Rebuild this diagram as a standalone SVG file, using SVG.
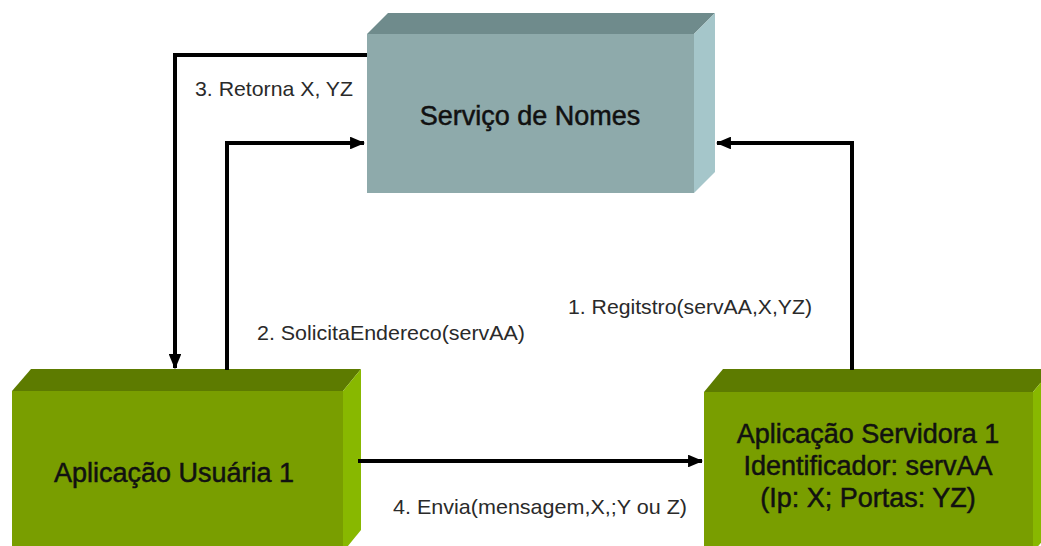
<svg xmlns="http://www.w3.org/2000/svg" width="1041" height="546" viewBox="0 0 1041 546">
  <style>
    .big { font-family: "Liberation Sans", Arial, sans-serif; font-size: 27px; fill: #111; stroke: #111; stroke-width: 0.5; text-anchor: middle; }
    .lbl { font-family: "Liberation Sans", Arial, sans-serif; font-size: 21px; fill: #2a2a2a; }
    .conn { fill: none; stroke: #000; stroke-width: 4; stroke-linejoin: miter; }
    .blue-front { fill: #8eaaab; }
    .blue-top { fill: #6f8b8c; }
    .blue-side { fill: #a5c6ca; }
    .green-front { fill: #799e00; }
    .green-top { fill: #5d7b00; }
    .green-side { fill: #88b800; }
  </style>
  <defs>
    <marker id="arrow" viewBox="0 0 12 10" refX="11" refY="5" markerWidth="3.8" markerHeight="3.2" orient="auto" markerUnits="strokeWidth">
      <path d="M0,0 L12,5 L0,10 Z" fill="#000"/>
    </marker>
  </defs>
  <rect width="1041" height="546" fill="#fff"/>

  <!-- name service block -->
  <g id="servico-nomes">
    <polygon class="blue-top" points="367,34 388,13 715,13 694,34"/>
    <polygon class="blue-side" points="694,34 715,13 715,172 694,193"/>
    <rect class="blue-front" x="367" y="34" width="327" height="159"/>
    <text class="big" x="530" y="125">Serviço de Nomes</text>
  </g>

  <!-- client application block -->
  <g id="aplicacao-usuaria">
    <polygon class="green-top" points="12,391 31,369 361,369 343,391"/>
    <polygon class="green-side" points="343,391 361,369 361,530 343,552"/>
    <rect class="green-front" x="12" y="391" width="331" height="160"/>
    <text class="big" x="174" y="482">Aplicação Usuária 1</text>
  </g>

  <!-- server application block -->
  <g id="aplicacao-servidora">
    <polygon class="green-top" points="704,392 723,369 1052,369 1033,392"/>
    <polygon class="green-side" points="1033,392 1052,369 1052,530 1033,552"/>
    <rect class="green-front" x="704" y="392" width="329" height="160"/>
    <text class="big" x="868" y="443">Aplicação Servidora 1</text>
    <text class="big" x="868" y="475">Identificador: servAA</text>
    <text class="big" x="868" y="507">(Ip: X; Portas: YZ)</text>
  </g>

  <!-- message flows -->
  <g id="connectors">
    <path class="conn" d="M367,55 L175,55 L175,368" marker-end="url(#arrow)"/>
    <path class="conn" d="M227,370 L227,143 L364,143" marker-end="url(#arrow)"/>
    <path class="conn" d="M852,370 L852,143 L717,143" marker-end="url(#arrow)"/>
    <path class="conn" d="M358,461 L702,461" marker-end="url(#arrow)"/>
  </g>

  <g id="labels">
    <text class="lbl" x="195" y="96" textLength="158" lengthAdjust="spacingAndGlyphs">3. Retorna X, YZ</text>
    <text class="lbl" x="257" y="340" textLength="268" lengthAdjust="spacingAndGlyphs">2. SolicitaEndereco(servAA)</text>
    <text class="lbl" x="568" y="314" textLength="244" lengthAdjust="spacingAndGlyphs">1. Regitstro(servAA,X,YZ)</text>
    <text class="lbl" x="393" y="514" textLength="294" lengthAdjust="spacingAndGlyphs">4. Envia(mensagem,X,;Y ou Z)</text>
  </g>
</svg>
